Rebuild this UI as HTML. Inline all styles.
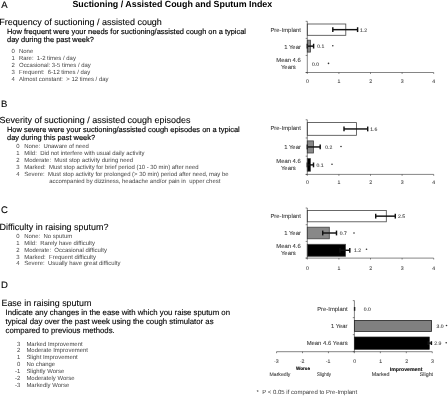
<!DOCTYPE html>
<html><head><meta charset="utf-8"><title>Suctioning / Assisted Cough and Sputum Index</title>
<style>
html,body{margin:0;padding:0;background:#fff;}
svg{display:block;font-family:"Liberation Sans",sans-serif;text-rendering:geometricPrecision;}
text{white-space:pre;}
</style></head>
<body>
<svg width="448" height="396" viewBox="0 0 448 396">
<rect width="448" height="396" fill="#fff"/>
<text x="72.4" y="6.7" font-size="8.89" font-weight="bold">Suctioning / Assisted Cough and Sputum Index</text>
<text x="1.2" y="8.4" font-size="9.5" stroke="#000" stroke-width="0.12">A</text>
<text x="1.1" y="106.6" font-size="9.5" stroke="#000" stroke-width="0.12">B</text>
<text x="0.9" y="213.1" font-size="9.5" stroke="#000" stroke-width="0.12">C</text>
<text x="1.1" y="288.1" font-size="9.5" stroke="#000" stroke-width="0.12">D</text>
<text x="-0.7" y="24.5" font-size="8.97" stroke="#000" stroke-width="0.08">Frequency of suctioning / assisted cough</text>
<text x="-0.5" y="123.25" font-size="8.97" stroke="#000" stroke-width="0.08">Severity of suctioning / assisted cough episodes</text>
<text x="-0.5" y="230" font-size="8.97" stroke="#000" stroke-width="0.08">Difficulty in raising sputum?</text>
<text x="1.5" y="305.75" font-size="8.9" stroke="#000" stroke-width="0.08">Ease in raising sputum</text>
<text x="7" y="34.2" font-size="7.45" stroke="#000" stroke-width="0.15">How frequent were your needs for suctioning/assisted cough on a typical</text>
<text x="7" y="42.4" font-size="7.45" stroke="#000" stroke-width="0.15">day during the past week?</text>
<text x="7" y="132.3" font-size="7.45" stroke="#000" stroke-width="0.15">How severe were your suctioning/assisted cough episodes on a typical</text>
<text x="7" y="140.25" font-size="7.45" stroke="#000" stroke-width="0.15">day during this past week?</text>
<text x="5.5" y="315" font-size="7.8" stroke="#000" stroke-width="0.12">Indicate any changes in the ease with which you raise sputum on</text>
<text x="5.5" y="323.6" font-size="7.8" stroke="#000" stroke-width="0.12">typical day over the past week using the cough stimulator as</text>
<text x="5.5" y="332.6" font-size="7.8" stroke="#000" stroke-width="0.12">compared to previous methods.</text>
<text x="11.5" y="53" font-size="5.96" fill="#444">0</text>
<text x="19" y="53" font-size="5.96" fill="#444">None</text>
<text x="11.5" y="60" font-size="5.96" fill="#444">1</text>
<text x="19" y="60" font-size="5.96" fill="#444">Rare:  1-2 times / day</text>
<text x="11.5" y="66.8" font-size="5.96" fill="#444">2</text>
<text x="19" y="66.8" font-size="5.96" fill="#444">Occasional: 3-5 times / day</text>
<text x="11.5" y="73.7" font-size="5.96" fill="#444">3</text>
<text x="19" y="73.7" font-size="5.96" fill="#444">Frequent:  6-12 times / day</text>
<text x="11.5" y="80.5" font-size="5.96" fill="#444">4</text>
<text x="19" y="80.5" font-size="5.96" fill="#444">Almost constant:  &gt; 12 times / day</text>
<text x="16.25" y="148.25" font-size="5.96" fill="#444">0</text>
<text x="24.25" y="148.25" font-size="5.96" fill="#444">None:  Unaware of need</text>
<text x="16.25" y="155.25" font-size="5.96" fill="#444">1</text>
<text x="24.25" y="155.25" font-size="5.96" fill="#444">Mild:  Did not interfere with usual daily activity</text>
<text x="16.25" y="162" font-size="5.96" fill="#444">2</text>
<text x="24.25" y="162" font-size="5.96" fill="#444">Moderate:  Must stop activity during need</text>
<text x="16.25" y="169" font-size="5.96" fill="#444">3</text>
<text x="24.25" y="169" font-size="5.96" fill="#444">Marked:  Must stop activity for brief period (10 - 30 min) after need</text>
<text x="16.25" y="175.75" font-size="5.96" fill="#444">4</text>
<text x="24.25" y="175.75" font-size="5.96" fill="#444">Severe:  Must stop activity for prolonged (&gt; 30 min) period after need, may be</text>
<text x="49.25" y="182.75" font-size="5.96" fill="#444">accompanied by dizziness, headache and/or pain in  upper chest</text>
<text x="16.25" y="238" font-size="5.96" fill="#444">0</text>
<text x="24.25" y="238" font-size="5.96" fill="#444">None:  No sputum</text>
<text x="16.25" y="244.8" font-size="5.96" fill="#444">1</text>
<text x="24.25" y="244.8" font-size="5.96" fill="#444">Mild:  Rarely have difficulty</text>
<text x="16.25" y="251.7" font-size="5.96" fill="#444">2</text>
<text x="24.25" y="251.7" font-size="5.96" fill="#444">Moderate:  Occasional difficulty</text>
<text x="16.25" y="258.5" font-size="5.96" fill="#444">3</text>
<text x="24.25" y="258.5" font-size="5.96" fill="#444">Marked:  Frequent difficulty</text>
<text x="16.25" y="265.4" font-size="5.96" fill="#444">4</text>
<text x="24.25" y="265.4" font-size="5.96" fill="#444">Severe:  Usually have great difficulty</text>
<text x="20.3" y="345.5" font-size="5.96" text-anchor="end" fill="#444">3</text>
<text x="26.4" y="345.5" font-size="5.96" fill="#444">Marked Improvement</text>
<text x="20.3" y="352.4" font-size="5.96" text-anchor="end" fill="#444">2</text>
<text x="26.4" y="352.4" font-size="5.96" fill="#444">Moderate Improvement</text>
<text x="20.3" y="359.2" font-size="5.96" text-anchor="end" fill="#444">1</text>
<text x="26.4" y="359.2" font-size="5.96" fill="#444">Slight Improvement</text>
<text x="20.3" y="366" font-size="5.96" text-anchor="end" fill="#444">0</text>
<text x="26.4" y="366" font-size="5.96" fill="#444">No change</text>
<text x="20.3" y="373" font-size="5.96" text-anchor="end" fill="#444">-1</text>
<text x="26.4" y="373" font-size="5.96" fill="#444">Slightly Worse</text>
<text x="20.3" y="379.8" font-size="5.96" text-anchor="end" fill="#444">-2</text>
<text x="26.4" y="379.8" font-size="5.96" fill="#444">Moderately Worse</text>
<text x="20.3" y="386.6" font-size="5.96" text-anchor="end" fill="#444">-3</text>
<text x="26.4" y="386.6" font-size="5.96" fill="#444">Markedly Worse</text>
<rect x="307.30" y="24.00" width="38.50" height="11.30" fill="#fff" stroke="#444" stroke-width="0.8"/>
<line x1="332.80" y1="29.65" x2="357.60" y2="29.65" stroke="#111" stroke-width="1.45"/>
<line x1="332.80" y1="27.25" x2="332.80" y2="32.05" stroke="#111" stroke-width="1.45"/>
<line x1="357.60" y1="27.25" x2="357.60" y2="32.05" stroke="#111" stroke-width="1.45"/>
<text x="360" y="31.85" font-size="5.1" fill="#3a3a3a" stroke="#3a3a3a" stroke-width="0.08">1.2</text>
<rect x="307.30" y="40.20" width="3.10" height="11.90" fill="#888" stroke="#444" stroke-width="0.8"/>
<line x1="307.30" y1="46.15" x2="313.60" y2="46.15" stroke="#111" stroke-width="1.45"/>
<line x1="307.30" y1="43.75" x2="307.30" y2="48.55" stroke="#111" stroke-width="1.45"/>
<line x1="313.60" y1="43.75" x2="313.60" y2="48.55" stroke="#111" stroke-width="1.45"/>
<text x="317.2" y="48.15" font-size="5.1" fill="#3a3a3a" stroke="#3a3a3a" stroke-width="0.08">0.1</text>
<circle cx="332.8" cy="45.8" r="0.8" fill="#333"/>
<text x="312" y="65.55" font-size="5.1" fill="#3a3a3a" stroke="#3a3a3a" stroke-width="0.08">0.0</text>
<circle cx="328.5" cy="63.4" r="0.8" fill="#333"/>
<line x1="307.30" y1="21.30" x2="307.30" y2="72.50" stroke="#333" stroke-width="0.6"/>
<line x1="305.70" y1="72.50" x2="433.70" y2="72.50" stroke="#333" stroke-width="0.6"/>
<line x1="305.70" y1="21.30" x2="307.30" y2="21.30" stroke="#333" stroke-width="0.6"/>
<line x1="305.70" y1="38.37" x2="307.30" y2="38.37" stroke="#333" stroke-width="0.6"/>
<line x1="305.70" y1="55.43" x2="307.30" y2="55.43" stroke="#333" stroke-width="0.6"/>
<line x1="305.70" y1="72.50" x2="307.30" y2="72.50" stroke="#333" stroke-width="0.6"/>
<line x1="307.30" y1="72.50" x2="307.30" y2="73.90" stroke="#333" stroke-width="0.6"/>
<text x="307.40000000000003" y="83.2" font-size="5.2" text-anchor="middle" fill="#444" stroke="#444" stroke-width="0.08">0</text>
<line x1="338.90" y1="72.50" x2="338.90" y2="73.90" stroke="#333" stroke-width="0.6"/>
<text x="339.00000000000006" y="83.2" font-size="5.2" text-anchor="middle" fill="#444" stroke="#444" stroke-width="0.08">1</text>
<line x1="370.50" y1="72.50" x2="370.50" y2="73.90" stroke="#333" stroke-width="0.6"/>
<text x="370.6" y="83.2" font-size="5.2" text-anchor="middle" fill="#444" stroke="#444" stroke-width="0.08">2</text>
<line x1="402.10" y1="72.50" x2="402.10" y2="73.90" stroke="#333" stroke-width="0.6"/>
<text x="402.20000000000005" y="83.2" font-size="5.2" text-anchor="middle" fill="#444" stroke="#444" stroke-width="0.08">3</text>
<line x1="433.70" y1="72.50" x2="433.70" y2="73.90" stroke="#333" stroke-width="0.6"/>
<text x="433.80000000000007" y="83.2" font-size="5.2" text-anchor="middle" fill="#444" stroke="#444" stroke-width="0.08">4</text>
<text x="300.9" y="31.6" font-size="5.9" text-anchor="end" fill="#3a3a3a" stroke="#3a3a3a" stroke-width="0.08">Pre-Implant</text>
<text x="300.9" y="48.7" font-size="5.9" text-anchor="end" fill="#3a3a3a" stroke="#3a3a3a" stroke-width="0.08">1 Year</text>
<text x="288.5" y="62.1" font-size="5.9" text-anchor="middle" fill="#3a3a3a" stroke="#3a3a3a" stroke-width="0.08">Mean 4.6</text>
<text x="288.4" y="68.9" font-size="5.9" text-anchor="middle" fill="#3a3a3a" stroke="#3a3a3a" stroke-width="0.08">Years</text>
<rect x="307.30" y="122.60" width="49.30" height="12.70" fill="#fff" stroke="#444" stroke-width="0.8"/>
<line x1="344.00" y1="128.95" x2="367.70" y2="128.95" stroke="#111" stroke-width="1.45"/>
<line x1="344.00" y1="126.55" x2="344.00" y2="131.35" stroke="#111" stroke-width="1.45"/>
<line x1="367.70" y1="126.55" x2="367.70" y2="131.35" stroke="#111" stroke-width="1.45"/>
<text x="370.2" y="130.75" font-size="5.1" fill="#3a3a3a" stroke="#3a3a3a" stroke-width="0.08">1.6</text>
<rect x="307.30" y="140.90" width="6.30" height="12.10" fill="#888" stroke="#444" stroke-width="0.8"/>
<line x1="307.30" y1="146.95" x2="320.20" y2="146.95" stroke="#111" stroke-width="1.45"/>
<line x1="307.30" y1="144.55" x2="307.30" y2="149.35" stroke="#111" stroke-width="1.45"/>
<line x1="320.20" y1="144.55" x2="320.20" y2="149.35" stroke="#111" stroke-width="1.45"/>
<text x="325.2" y="148.85" font-size="5.1" fill="#3a3a3a" stroke="#3a3a3a" stroke-width="0.08">0.2</text>
<circle cx="341" cy="146.5" r="0.8" fill="#333"/>
<rect x="307.30" y="158.60" width="3.10" height="12.60" fill="#000" stroke="#444" stroke-width="0.8"/>
<line x1="307.30" y1="164.90" x2="313.50" y2="164.90" stroke="#111" stroke-width="1.45"/>
<line x1="307.30" y1="162.50" x2="307.30" y2="167.30" stroke="#111" stroke-width="1.45"/>
<line x1="313.50" y1="162.50" x2="313.50" y2="167.30" stroke="#111" stroke-width="1.45"/>
<text x="316.5" y="166.65" font-size="5.1" fill="#3a3a3a" stroke="#3a3a3a" stroke-width="0.08">0.1</text>
<circle cx="332" cy="164.2" r="0.8" fill="#333"/>
<line x1="307.30" y1="119.75" x2="307.30" y2="174.40" stroke="#333" stroke-width="0.6"/>
<line x1="305.70" y1="174.40" x2="433.70" y2="174.40" stroke="#333" stroke-width="0.6"/>
<line x1="305.70" y1="119.75" x2="307.30" y2="119.75" stroke="#333" stroke-width="0.6"/>
<line x1="305.70" y1="137.97" x2="307.30" y2="137.97" stroke="#333" stroke-width="0.6"/>
<line x1="305.70" y1="156.18" x2="307.30" y2="156.18" stroke="#333" stroke-width="0.6"/>
<line x1="305.70" y1="174.40" x2="307.30" y2="174.40" stroke="#333" stroke-width="0.6"/>
<line x1="307.30" y1="174.40" x2="307.30" y2="175.80" stroke="#333" stroke-width="0.6"/>
<text x="307.40000000000003" y="184.20000000000002" font-size="5.2" text-anchor="middle" fill="#444" stroke="#444" stroke-width="0.08">0</text>
<line x1="338.90" y1="174.40" x2="338.90" y2="175.80" stroke="#333" stroke-width="0.6"/>
<text x="339.00000000000006" y="184.20000000000002" font-size="5.2" text-anchor="middle" fill="#444" stroke="#444" stroke-width="0.08">1</text>
<line x1="370.50" y1="174.40" x2="370.50" y2="175.80" stroke="#333" stroke-width="0.6"/>
<text x="370.6" y="184.20000000000002" font-size="5.2" text-anchor="middle" fill="#444" stroke="#444" stroke-width="0.08">2</text>
<line x1="402.10" y1="174.40" x2="402.10" y2="175.80" stroke="#333" stroke-width="0.6"/>
<text x="402.20000000000005" y="184.20000000000002" font-size="5.2" text-anchor="middle" fill="#444" stroke="#444" stroke-width="0.08">3</text>
<line x1="433.70" y1="174.40" x2="433.70" y2="175.80" stroke="#333" stroke-width="0.6"/>
<text x="433.80000000000007" y="184.20000000000002" font-size="5.2" text-anchor="middle" fill="#444" stroke="#444" stroke-width="0.08">4</text>
<text x="300.9" y="130.3" font-size="5.9" text-anchor="end" fill="#3a3a3a" stroke="#3a3a3a" stroke-width="0.08">Pre-Implant</text>
<text x="300.9" y="148.9" font-size="5.9" text-anchor="end" fill="#3a3a3a" stroke="#3a3a3a" stroke-width="0.08">1 Year</text>
<text x="288.5" y="162.9" font-size="5.9" text-anchor="middle" fill="#3a3a3a" stroke="#3a3a3a" stroke-width="0.08">Mean 4.6</text>
<text x="288.4" y="170" font-size="5.9" text-anchor="middle" fill="#3a3a3a" stroke="#3a3a3a" stroke-width="0.08">Years</text>
<rect x="307.30" y="210.50" width="79.00" height="11.30" fill="#fff" stroke="#444" stroke-width="0.8"/>
<line x1="375.70" y1="216.15" x2="395.30" y2="216.15" stroke="#111" stroke-width="1.45"/>
<line x1="375.70" y1="213.75" x2="375.70" y2="218.55" stroke="#111" stroke-width="1.45"/>
<line x1="395.30" y1="213.75" x2="395.30" y2="218.55" stroke="#111" stroke-width="1.45"/>
<text x="398" y="218.35" font-size="5.1" fill="#3a3a3a" stroke="#3a3a3a" stroke-width="0.08">2.5</text>
<rect x="307.30" y="227.20" width="22.00" height="11.60" fill="#888" stroke="#444" stroke-width="0.8"/>
<line x1="322.70" y1="233.00" x2="336.50" y2="233.00" stroke="#111" stroke-width="1.45"/>
<line x1="322.70" y1="230.60" x2="322.70" y2="235.40" stroke="#111" stroke-width="1.45"/>
<line x1="336.50" y1="230.60" x2="336.50" y2="235.40" stroke="#111" stroke-width="1.45"/>
<text x="339.7" y="234.85" font-size="5.1" fill="#3a3a3a" stroke="#3a3a3a" stroke-width="0.08">0.7</text>
<circle cx="354" cy="233" r="0.8" fill="#333"/>
<rect x="307.30" y="244.30" width="38.20" height="12.00" fill="#000" stroke="#444" stroke-width="0.8"/>
<line x1="340.00" y1="250.30" x2="349.80" y2="250.30" stroke="#111" stroke-width="1.45"/>
<line x1="340.00" y1="247.90" x2="340.00" y2="252.70" stroke="#111" stroke-width="1.45"/>
<line x1="349.80" y1="247.90" x2="349.80" y2="252.70" stroke="#111" stroke-width="1.45"/>
<text x="354" y="251.85" font-size="5.1" fill="#3a3a3a" stroke="#3a3a3a" stroke-width="0.08">1.2</text>
<circle cx="366.5" cy="249.3" r="0.8" fill="#333"/>
<line x1="307.30" y1="208.00" x2="307.30" y2="258.10" stroke="#333" stroke-width="0.6"/>
<line x1="305.70" y1="258.10" x2="433.70" y2="258.10" stroke="#333" stroke-width="0.6"/>
<line x1="305.70" y1="208.00" x2="307.30" y2="208.00" stroke="#333" stroke-width="0.6"/>
<line x1="305.70" y1="224.70" x2="307.30" y2="224.70" stroke="#333" stroke-width="0.6"/>
<line x1="305.70" y1="241.40" x2="307.30" y2="241.40" stroke="#333" stroke-width="0.6"/>
<line x1="305.70" y1="258.10" x2="307.30" y2="258.10" stroke="#333" stroke-width="0.6"/>
<line x1="307.30" y1="258.10" x2="307.30" y2="259.50" stroke="#333" stroke-width="0.6"/>
<text x="307.40000000000003" y="269.5" font-size="5.2" text-anchor="middle" fill="#444" stroke="#444" stroke-width="0.08">0</text>
<line x1="338.90" y1="258.10" x2="338.90" y2="259.50" stroke="#333" stroke-width="0.6"/>
<text x="339.00000000000006" y="269.5" font-size="5.2" text-anchor="middle" fill="#444" stroke="#444" stroke-width="0.08">1</text>
<line x1="370.50" y1="258.10" x2="370.50" y2="259.50" stroke="#333" stroke-width="0.6"/>
<text x="370.6" y="269.5" font-size="5.2" text-anchor="middle" fill="#444" stroke="#444" stroke-width="0.08">2</text>
<line x1="402.10" y1="258.10" x2="402.10" y2="259.50" stroke="#333" stroke-width="0.6"/>
<text x="402.20000000000005" y="269.5" font-size="5.2" text-anchor="middle" fill="#444" stroke="#444" stroke-width="0.08">3</text>
<line x1="433.70" y1="258.10" x2="433.70" y2="259.50" stroke="#333" stroke-width="0.6"/>
<text x="433.80000000000007" y="269.5" font-size="5.2" text-anchor="middle" fill="#444" stroke="#444" stroke-width="0.08">4</text>
<text x="300.9" y="218.2" font-size="5.9" text-anchor="end" fill="#3a3a3a" stroke="#3a3a3a" stroke-width="0.08">Pre-Implant</text>
<text x="300.9" y="234.9" font-size="5.9" text-anchor="end" fill="#3a3a3a" stroke="#3a3a3a" stroke-width="0.08">1 Year</text>
<text x="288.5" y="248" font-size="5.9" text-anchor="middle" fill="#3a3a3a" stroke="#3a3a3a" stroke-width="0.08">Mean 4.6</text>
<text x="288.4" y="255.2" font-size="5.9" text-anchor="middle" fill="#3a3a3a" stroke="#3a3a3a" stroke-width="0.08">Years</text>
<rect x="354.40" y="320.40" width="77.20" height="11.00" fill="#808080" stroke="#222" stroke-width="0.8"/>
<rect x="354.40" y="337.10" width="74.80" height="12.10" fill="#000" stroke="#000" stroke-width="0.8"/>
<line x1="354.60" y1="307.00" x2="354.60" y2="310.80" stroke="#111" stroke-width="1.4"/>
<line x1="428.20" y1="343.10" x2="431.40" y2="343.10" stroke="#111" stroke-width="1.45"/>
<line x1="428.20" y1="341.20" x2="428.20" y2="345.00" stroke="#111" stroke-width="1.45"/>
<line x1="431.40" y1="341.20" x2="431.40" y2="345.00" stroke="#111" stroke-width="1.45"/>
<text x="363.8" y="311.05" font-size="5.1" fill="#3a3a3a" stroke="#3a3a3a" stroke-width="0.08">0.0</text>
<text x="436.6" y="327.65000000000003" font-size="5.1" fill="#3a3a3a" stroke="#3a3a3a" stroke-width="0.08">3.0</text>
<text x="434.3" y="344.85" font-size="5.1" fill="#3a3a3a" stroke="#3a3a3a" stroke-width="0.08">2.9</text>
<circle cx="446.5" cy="325.5" r="0.8" fill="#333"/>
<circle cx="446.2" cy="342.8" r="0.8" fill="#333"/>
<line x1="354.40" y1="300.60" x2="354.40" y2="351.70" stroke="#333" stroke-width="0.6"/>
<line x1="276.55" y1="351.70" x2="432.25" y2="351.70" stroke="#333" stroke-width="0.6"/>
<line x1="352.80" y1="300.60" x2="354.40" y2="300.60" stroke="#333" stroke-width="0.6"/>
<line x1="352.80" y1="317.63" x2="354.40" y2="317.63" stroke="#333" stroke-width="0.6"/>
<line x1="352.80" y1="334.67" x2="354.40" y2="334.67" stroke="#333" stroke-width="0.6"/>
<line x1="352.80" y1="351.70" x2="354.40" y2="351.70" stroke="#333" stroke-width="0.6"/>
<line x1="276.55" y1="351.70" x2="276.55" y2="353.20" stroke="#333" stroke-width="0.6"/>
<text x="276.24999999999994" y="362.9" font-size="5.2" text-anchor="middle" fill="#444" stroke="#444" stroke-width="0.08">-3</text>
<line x1="302.50" y1="351.70" x2="302.50" y2="353.20" stroke="#333" stroke-width="0.6"/>
<text x="302.2" y="362.9" font-size="5.2" text-anchor="middle" fill="#444" stroke="#444" stroke-width="0.08">-2</text>
<line x1="328.45" y1="351.70" x2="328.45" y2="353.20" stroke="#333" stroke-width="0.6"/>
<text x="328.15" y="362.9" font-size="5.2" text-anchor="middle" fill="#444" stroke="#444" stroke-width="0.08">-1</text>
<line x1="354.40" y1="351.70" x2="354.40" y2="353.20" stroke="#333" stroke-width="0.6"/>
<text x="354.7" y="362.9" font-size="5.2" text-anchor="middle" fill="#444" stroke="#444" stroke-width="0.08">0</text>
<line x1="380.35" y1="351.70" x2="380.35" y2="353.20" stroke="#333" stroke-width="0.6"/>
<text x="380.65" y="362.9" font-size="5.2" text-anchor="middle" fill="#444" stroke="#444" stroke-width="0.08">1</text>
<line x1="406.30" y1="351.70" x2="406.30" y2="353.20" stroke="#333" stroke-width="0.6"/>
<text x="406.59999999999997" y="362.9" font-size="5.2" text-anchor="middle" fill="#444" stroke="#444" stroke-width="0.08">2</text>
<line x1="432.25" y1="351.70" x2="432.25" y2="353.20" stroke="#333" stroke-width="0.6"/>
<text x="432.55" y="362.9" font-size="5.2" text-anchor="middle" fill="#444" stroke="#444" stroke-width="0.08">3</text>
<text x="347.6" y="311.2" font-size="5.9" text-anchor="end" fill="#3a3a3a" stroke="#3a3a3a" stroke-width="0.08">Pre-Implant</text>
<text x="347.6" y="328" font-size="5.9" text-anchor="end" fill="#3a3a3a" stroke="#3a3a3a" stroke-width="0.08">1 Year</text>
<text x="347.6" y="345.4" font-size="5.9" text-anchor="end" fill="#3a3a3a" stroke="#3a3a3a" stroke-width="0.08">Mean 4.6 Years</text>
<text x="296" y="370" font-size="4.6" font-weight="bold" fill="#111" stroke="#111" stroke-width="0.15">Worse</text>
<text x="389.8" y="370.8" font-size="5.2" font-weight="bold" fill="#111" stroke="#111" stroke-width="0.12">Improvement</text>
<text x="269.5" y="376.2" font-size="5.15" fill="#3a3a3a" stroke="#3a3a3a" stroke-width="0.08">Markedly</text>
<text x="317" y="376.2" font-size="5.15" fill="#3a3a3a" textLength="14" lengthAdjust="spacingAndGlyphs" stroke="#3a3a3a" stroke-width="0.08">Slightly</text>
<text x="371.8" y="376.4" font-size="5.3" fill="#3a3a3a" stroke="#3a3a3a" stroke-width="0.08">Marked</text>
<text x="419.8" y="376.4" font-size="5.3" fill="#3a3a3a" stroke="#3a3a3a" stroke-width="0.08">Slight</text>
<text x="256.6" y="394.3" font-size="6.0" fill="#3a3a3a">*</text>
<text x="262.3" y="394.3" font-size="6.0" fill="#3a3a3a">P &lt; 0.05 if compared to Pre-Implant</text>
</svg>
</body></html>
